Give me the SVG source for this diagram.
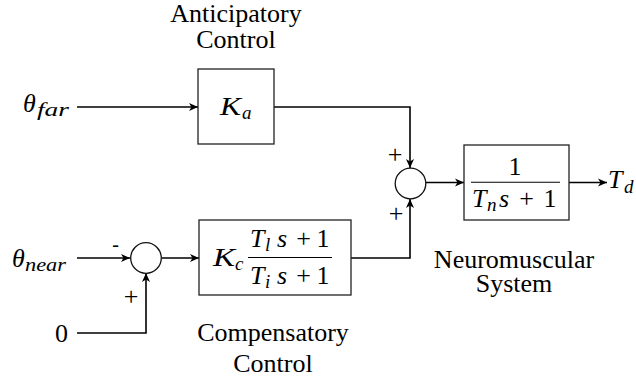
<svg xmlns="http://www.w3.org/2000/svg" width="636" height="381" viewBox="0 0 636 381">
<style>
.t{font-family:"Liberation Serif","Times New Roman",serif;font-size:26px;fill:#000}
.m{font-family:"Liberation Serif","Times New Roman",serif;font-size:26px;font-style:italic;fill:#000}
.s{font-family:"Liberation Serif","Times New Roman",serif;font-size:19px;font-style:italic;fill:#000}
.n{font-family:"Liberation Serif","Times New Roman",serif;font-size:26px;fill:#000}
.sg{font-family:"Liberation Serif","Times New Roman",serif;font-size:26px;fill:#000}
.box{fill:#fff;stroke:#222;stroke-width:1.3}
.sum{fill:#fff;stroke:#111;stroke-width:1.3}
.c{fill:none;stroke:#000;stroke-width:1.6}
.fl{stroke:#000;stroke-width:1.1}
</style>
<defs>
<marker id="arr" viewBox="-10 -5 11 10" refX="0" refY="0" markerWidth="11" markerHeight="10" markerUnits="userSpaceOnUse" orient="auto">
<path d="M0,0 L-9,-4 L-6.5,0 L-9,4 Z" fill="#000"/>
</marker>
</defs>

<g id="connectors">
<path class="c" d="M77,107 H198" marker-end="url(#arr)"/>
<path class="c" d="M274,107 H410 V168" marker-end="url(#arr)"/>
<path class="c" d="M351,258 H410 V199" marker-end="url(#arr)"/>
<path class="c" d="M426,182.5 H464" marker-end="url(#arr)"/>
<path class="c" d="M569,182.5 H607" marker-end="url(#arr)"/>
<path class="c" d="M77,258 H130" marker-end="url(#arr)"/>
<path class="c" d="M77,333 H146 V273" marker-end="url(#arr)"/>
<path class="c" d="M161.5,258 H199" marker-end="url(#arr)"/>
</g>

<g id="input-far">
<text class="m" x="23" y="112">θ</text>
<text class="s" x="37" y="116" textLength="32" lengthAdjust="spacingAndGlyphs">far</text>
</g>

<g id="input-near">
<text class="m" x="12" y="267">θ</text>
<text class="s" x="25" y="271" textLength="41" lengthAdjust="spacingAndGlyphs">near</text>
</g>

<g id="input-zero">
<text class="n" x="55" y="341.5">0</text>
</g>

<g id="anticipatory">
<rect class="box" x="198" y="69" width="76" height="75"/>
<text class="m" x="220" y="115" textLength="21" lengthAdjust="spacingAndGlyphs">K</text>
<text class="s" x="242" y="119">a</text>
<text class="t" x="236" y="22" text-anchor="middle">Anticipatory</text>
<text class="t" x="236" y="48" text-anchor="middle">Control</text>
</g>

<g id="sum-near">
<circle class="sum" cx="146" cy="258" r="15.3"/>
<text class="sg" x="115.5" y="251" text-anchor="middle" style="font-size:20px">-</text>
<text class="sg" x="131" y="305" text-anchor="middle">+</text>
</g>

<g id="compensatory">
<rect class="box" x="199" y="220" width="152" height="75"/>
<text class="m" x="213" y="266" textLength="22" lengthAdjust="spacingAndGlyphs">K</text>
<text class="s" x="235" y="270">c</text>
<line class="fl" x1="248" y1="257.5" x2="332" y2="257.5"/>
<text class="m" x="250" y="247">T</text>
<text class="s" x="265" y="251">l</text>
<text class="m" x="277" y="247">s</text>
<text class="n" x="303.5" y="247" text-anchor="middle">+</text>
<text class="n" x="323" y="247" text-anchor="middle">1</text>
<text class="m" x="250" y="284">T</text>
<text class="s" x="265" y="288">i</text>
<text class="m" x="277" y="284">s</text>
<text class="n" x="303.5" y="284" text-anchor="middle">+</text>
<text class="n" x="323" y="284" text-anchor="middle">1</text>
<text class="t" x="273" y="341" text-anchor="middle">Compensatory</text>
<text class="t" x="273" y="372" text-anchor="middle">Control</text>
</g>

<g id="sum-main">
<circle class="sum" cx="410.5" cy="183.5" r="15.3"/>
<text class="sg" x="395" y="163" text-anchor="middle">+</text>
<text class="sg" x="396" y="222" text-anchor="middle">+</text>
</g>

<g id="neuromuscular">
<rect class="box" x="464" y="145" width="105" height="75"/>
<text class="n" x="515" y="175" text-anchor="middle">1</text>
<line class="fl" x1="471" y1="182.3" x2="560" y2="182.3"/>
<text class="m" x="472" y="207">T</text>
<text class="s" x="487" y="211">n</text>
<text class="m" x="499" y="207">s</text>
<text class="n" x="526.5" y="207" text-anchor="middle">+</text>
<text class="n" x="550" y="207" text-anchor="middle">1</text>
<text class="t" x="514" y="268" text-anchor="middle">Neuromuscular</text>
<text class="t" x="514" y="292" text-anchor="middle">System</text>
</g>

<g id="output">
<text class="m" x="608" y="188">T</text>
<text class="s" x="624" y="193">d</text>
</g>
</svg>
